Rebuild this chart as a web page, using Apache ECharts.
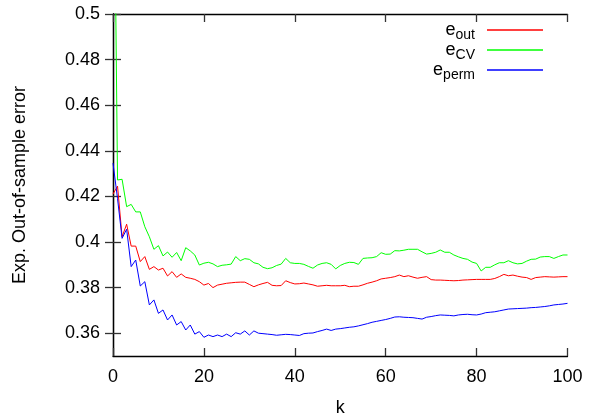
<!DOCTYPE html>
<html>
<head>
<meta charset="utf-8">
<script src="https://cdn.jsdelivr.net/npm/echarts@6/dist/echarts.min.js"></script>
<style>
  html, body { margin: 0; padding: 0; background: #fff; }
  #chart { width: 606px; height: 417px; }
</style>
</head>
<body>
<div id="chart"></div>
<script>
// k = 0..100
const kValues = [];
for (let k = 0; k <= 100; k++) kValues.push(k);

// e_out (red)
const eOut = [
  0.4210, 0.4245, 0.4023, 0.4078, 0.3982, 0.3982, 0.3914, 0.3936, 0.3880, 0.3892,
  0.3877, 0.3885, 0.3851, 0.3870, 0.3845, 0.3860, 0.3845, 0.3841, 0.3836, 0.3826,
  0.3811, 0.3818, 0.3800, 0.3811, 0.3815, 0.3819, 0.3821, 0.3823, 0.3824, 0.3824,
  0.3814, 0.3804, 0.3812, 0.3818, 0.3823, 0.3810, 0.3808, 0.3809, 0.3830, 0.3822,
  0.3816, 0.3817, 0.3820, 0.3816, 0.3812, 0.3806, 0.3808, 0.3810, 0.3808, 0.3808,
  0.3808, 0.3810, 0.3804, 0.3806, 0.3806, 0.3812, 0.3819, 0.3824, 0.3830, 0.3838,
  0.3841, 0.3844, 0.3848, 0.3855, 0.3848, 0.3852, 0.3846, 0.3841, 0.3845, 0.3848,
  0.3835, 0.3833, 0.3833, 0.3832, 0.3831, 0.3830, 0.3831, 0.3833, 0.3834, 0.3835,
  0.3836, 0.3836, 0.3836, 0.3836, 0.3840, 0.3848, 0.3858, 0.3852, 0.3855, 0.3850,
  0.3846, 0.3844, 0.3836, 0.3844, 0.3846, 0.3848, 0.3847, 0.3846, 0.3847, 0.3848,
  0.3848
];

// e_CV (green), first point is off the top of the plot
const eCV = [
  0.6200, 0.4272, 0.4275, 0.4155, 0.4165, 0.4132, 0.4132, 0.4067, 0.4023, 0.3968,
  0.3984, 0.3939, 0.3956, 0.3933, 0.3954, 0.3918, 0.3975, 0.3961, 0.3943, 0.3899,
  0.3907, 0.3911, 0.3904, 0.3892, 0.3898, 0.3900, 0.3903, 0.3936, 0.3918, 0.3927,
  0.3924, 0.3909, 0.3904, 0.3889, 0.3883, 0.3887, 0.3897, 0.3903, 0.3928, 0.3909,
  0.3906, 0.3906, 0.3902, 0.3893, 0.3885, 0.3899, 0.3906, 0.3909, 0.3902, 0.3882,
  0.3897, 0.3906, 0.3911, 0.3910, 0.3902, 0.3928, 0.3930, 0.3931, 0.3936, 0.3953,
  0.3946, 0.3947, 0.3962, 0.3961, 0.3964, 0.3968, 0.3968, 0.3968, 0.3957, 0.3947,
  0.3950, 0.3955, 0.3965, 0.3955, 0.3955, 0.3943, 0.3935, 0.3928, 0.3924, 0.3912,
  0.3906, 0.3873, 0.3889, 0.3889, 0.3900, 0.3909, 0.3909, 0.3918, 0.3909, 0.3904,
  0.3906, 0.3916, 0.3924, 0.3925, 0.3934, 0.3936, 0.3936, 0.3928, 0.3936, 0.3943,
  0.3943
];

// e_perm (blue)
const ePerm = [
  0.4346, 0.4190, 0.4016, 0.4056, 0.3892, 0.3921, 0.3807, 0.3826, 0.3724, 0.3746,
  0.3687, 0.3702, 0.3658, 0.3680, 0.3636, 0.3651, 0.3614, 0.3636, 0.3596, 0.3607,
  0.3582, 0.3592, 0.3585, 0.3592, 0.3585, 0.3596, 0.3585, 0.3602, 0.3596, 0.3610,
  0.3592, 0.3610, 0.3600, 0.3598, 0.3596, 0.3594, 0.3591, 0.3593, 0.3595, 0.3594,
  0.3592, 0.3590, 0.3598, 0.3600, 0.3601, 0.3607, 0.3612, 0.3618, 0.3612, 0.3618,
  0.3620, 0.3623, 0.3626, 0.3628, 0.3632, 0.3637, 0.3642, 0.3648, 0.3652, 0.3656,
  0.3660, 0.3665, 0.3671, 0.3672, 0.3670, 0.3669, 0.3668, 0.3665, 0.3662, 0.3670,
  0.3673, 0.3677, 0.3680, 0.3679, 0.3678, 0.3676, 0.3680, 0.3682, 0.3683, 0.3681,
  0.3680, 0.3684, 0.3690, 0.3692, 0.3694, 0.3698, 0.3702, 0.3706, 0.3707, 0.3708,
  0.3709, 0.3710, 0.3712, 0.3713, 0.3715, 0.3717, 0.3720, 0.3724, 0.3726, 0.3728,
  0.3731
];

const xTicks = [0, 20, 40, 60, 80, 100];
const yTicks = [0.36, 0.38, 0.4, 0.42, 0.44, 0.46, 0.48, 0.5];

const seriesNames = ['e_out', 'e_CV', 'e_perm'];
const seriesSubs = ['out', 'CV', 'perm'];
const seriesColors = ['#ff0000', '#00ff00', '#0000ff'];
const seriesValues = [eOut, eCV, ePerm];

const FONT = '"Liberation Sans", Arial, sans-serif';

const chart = echarts.init(document.getElementById('chart'));

const axisLineStyle = { color: '#000', width: 1.3 };
const tickStyle = { color: '#333', width: 1.3 };

// one small legend per series so the line samples line up at the right
const legends = seriesNames.map((name, i) => ({
  data: [name],
  right: 63,
  top: 21 + i * 20,
  orient: 'vertical',
  align: 'right',
  icon: 'rect',
  itemWidth: 56,
  itemHeight: 1.5,
  padding: 0,
  selectedMode: false,
  formatter: () => '{e|e}{s|' + seriesSubs[i] + '}{g|}',
  textStyle: {
    fontFamily: FONT,
    color: '#000',
    rich: {
      e: { fontSize: 18, lineHeight: 24, verticalAlign: 'middle', fontFamily: FONT, color: '#000' },
      s: { fontSize: 14, lineHeight: 8, verticalAlign: 'bottom', fontFamily: FONT, color: '#000' },
      g: { width: 7 }
    }
  }
}));

const option = {
  backgroundColor: '#fff',
  animation: false,
  grid: { left: 113, right: 38.5, top: 14, bottom: 61, containLabel: false, outerBoundsMode: 'none' },
  legend: legends,
  xAxis: [{
    type: 'value',
    min: 0,
    max: 100,
    interval: 20,
    name: 'k',
    nameLocation: 'middle',
    nameGap: 43,
    nameTextStyle: { fontFamily: FONT, fontSize: 18, color: '#000' },
    axisLine: { show: true, lineStyle: axisLineStyle },
    axisTick: { show: true, inside: true, length: 8, lineStyle: tickStyle, customValues: xTicks },
    axisLabel: { fontFamily: FONT, fontSize: 18, color: '#000', margin: 12, customValues: xTicks },
    splitLine: { show: false }
  }, {
    type: 'value',
    position: 'top',
    min: 0,
    max: 100,
    interval: 20,
    axisLine: { show: true, lineStyle: axisLineStyle },
    axisTick: { show: true, inside: true, length: 8, lineStyle: tickStyle, customValues: xTicks },
    axisLabel: { show: false },
    splitLine: { show: false }
  }],
  yAxis: [{
    type: 'value',
    min: 0.35,
    max: 0.5,
    name: 'Exp. Out-of-sample error',
    nameLocation: 'middle',
    nameGap: 84,
    nameTextStyle: { fontFamily: FONT, fontSize: 18, color: '#000' },
    axisLine: { show: true, lineStyle: axisLineStyle },
    axisTick: { show: true, inside: true, length: 8, lineStyle: tickStyle, customValues: yTicks },
    axisLabel: { fontFamily: FONT, fontSize: 18, color: '#000', margin: 13, customValues: yTicks },
    splitLine: { show: false }
  }, {
    type: 'value',
    position: 'right',
    min: 0.35,
    max: 0.5,
    axisLine: { show: true, lineStyle: axisLineStyle },
    axisTick: { show: true, inside: true, length: 8, lineStyle: tickStyle, customValues: yTicks },
    axisLabel: { show: false },
    splitLine: { show: false }
  }],
  series: seriesNames.map((name, i) => ({
    name: name,
    type: 'line',
    xAxisIndex: 0,
    yAxisIndex: 0,
    symbol: 'none',
    clip: true,
    lineStyle: { color: seriesColors[i], width: 1 },
    itemStyle: { color: seriesColors[i] },
    data: kValues.map((k, j) => [k, seriesValues[i][j]])
  }))
};

chart.setOption(option);
</script>
</body>
</html>
